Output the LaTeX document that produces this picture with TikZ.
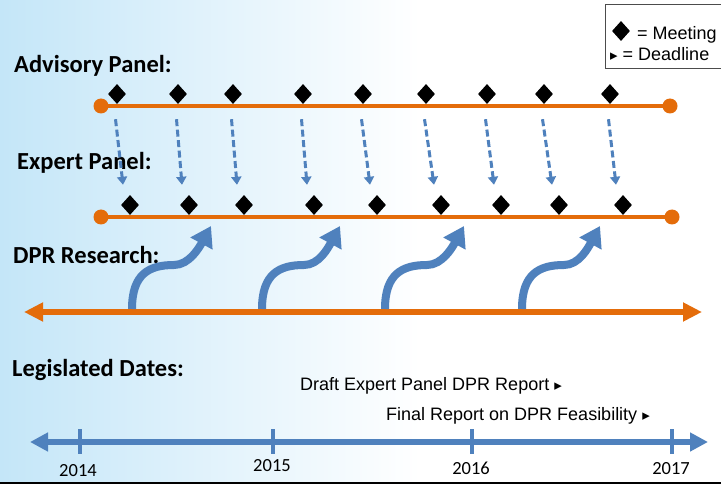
\documentclass[tikz,border=0pt]{standalone}
\usepackage{fontspec}
\setmainfont{Carlito}
\newfontfamily\arialf{Liberation Sans}
\newfontfamily\djf{DejaVu Sans}
\usetikzlibrary{shapes.geometric,arrows.meta,calc}
\definecolor{orng}{HTML}{E46C0A}
\definecolor{blu}{HTML}{4F81BD}
\definecolor{bgblue}{RGB}{196,230,248}
\begin{document}
\begin{tikzpicture}[x=1pt,y=-1pt,
 meet/.style={shape=diamond,fill=black,inner sep=0pt,minimum width=18pt,minimum height=20pt},
 enddot/.style={circle,fill=orng,inner sep=0pt,minimum size=15pt},
 panelline/.style={orng,line width=4.5pt},
 dprline/.style={orng,line width=6pt,{Triangle[length=19pt,width=18pt]}-{Triangle[length=19pt,width=18pt]}},
 dateline/.style={blu,line width=6pt,{Triangle[length=18pt,width=18pt]}-{Triangle[length=18pt,width=18pt]}},
 yeartick/.style={blu,line width=4pt},
 flow/.style={blu,line width=3pt,dash pattern=on 7pt off 3.5pt,-{Triangle[length=8pt,width=10pt]}},
 research/.style={blu,line width=8pt,-{Triangle[length=20pt,width=24pt]}},
 heading/.style={font=\bfseries\fontsize{24.5}{28}\selectfont,anchor=base west,inner sep=0pt},
 year/.style={font=\fontsize{18.5}{20}\selectfont,anchor=base,inner sep=0pt},
 note/.style={font=\arialf\fontsize{18}{20}\selectfont,anchor=base west,inner sep=0pt},
]
\useasboundingbox (0,0) rectangle (721,484);
% background
\fill[white] (0,0) rectangle (721,484);
\shade[left color=bgblue,right color=white] (0,0) rectangle (420,484);
\draw[black,line width=2pt] (0,483) -- (721,483);

% legend
\draw[gray!60!black,line width=1pt] (605,5) rectangle (724,69);
\node[meet] (lgm) at (621,31) {};
\node[note] (lgmt) at (637,40) {= Meeting};
\node[note] (lgdt) at (610,61) {{\djf\fontsize{15}{16}\selectfont ▸} = Deadline};

% headings
\node[heading] (hadv) at (14,73) {Advisory Panel:};
\node[heading] (hexp) at (17,170) {Expert Panel:};
\node[heading] (hdpr) at (13,263) {DPR Research:};
\node[heading] (hleg) at (12,376) {Legislated Dates:};

% advisory panel line
\draw[panelline] (101,106) -- (670,106);
\node[enddot] (al) at (101,106) {};
\node[enddot] (ar) at (670,106) {};
\foreach \i/\x in {1/117,2/178,3/233,4/303,5/363,6/426,7/487,8/544,9/610}
  \node[meet] (a\i) at (\x,94) {};

% expert panel line
\draw[panelline] (101,217) -- (672,217);
\node[enddot] (el) at (101,217) {};
\node[enddot] (er) at (672,217) {};
\foreach \i/\x in {1/130,2/189,3/244,4/314,5/377,6/441,7/501,8/559,9/623}
  \node[meet] (e\i) at (\x,205) {};

% dashed arrows
\foreach \i in {1,...,9}
  \draw[flow] ($(a\i.south)+(-1.5,15)$) -- ($(e\i.north)+(-7,-10)$);

% DPR research line
\coordinate (dl) at (24,312);
\coordinate (dr) at (702,312);
\draw[dprline] (dl) -- (dr);

% research arrows
\foreach \i/\bx/\tx in {1/132/211,2/262/340,3/385/464,4/522/600}{
  \coordinate (b\i) at (\bx,309);
  \coordinate (t\i) at (\tx,226);
  \draw[research] (b\i) .. controls +(0,-35) and +(-25,0) .. ($(b\i)+(42,-44)$)
     .. controls +(15,0) and +(-12,22) .. (t\i);
}

% deadlines
\node[note] (draft) at (300,390) {Draft Expert Panel DPR Report {\djf\fontsize{15}{16}\selectfont ▸}};
\node[note] (final) at (386,420) {Final Report on DPR Feasibility {\djf\fontsize{15}{16}\selectfont ▸}};

% date line
\coordinate (tl) at (30,442);
\coordinate (tr) at (708,442);
\draw[dateline] (tl) -- (tr);
\foreach \x in {80,273,472,672}
  \draw[yeartick] (\x,429) -- (\x,454);
\node[year] (y14) at (78,476) {2014};
\node[year] (y15) at (272,471) {2015};
\node[year] (y16) at (471,474) {2016};
\node[year] (y17) at (671,474) {2017};
\end{tikzpicture}
\end{document}
